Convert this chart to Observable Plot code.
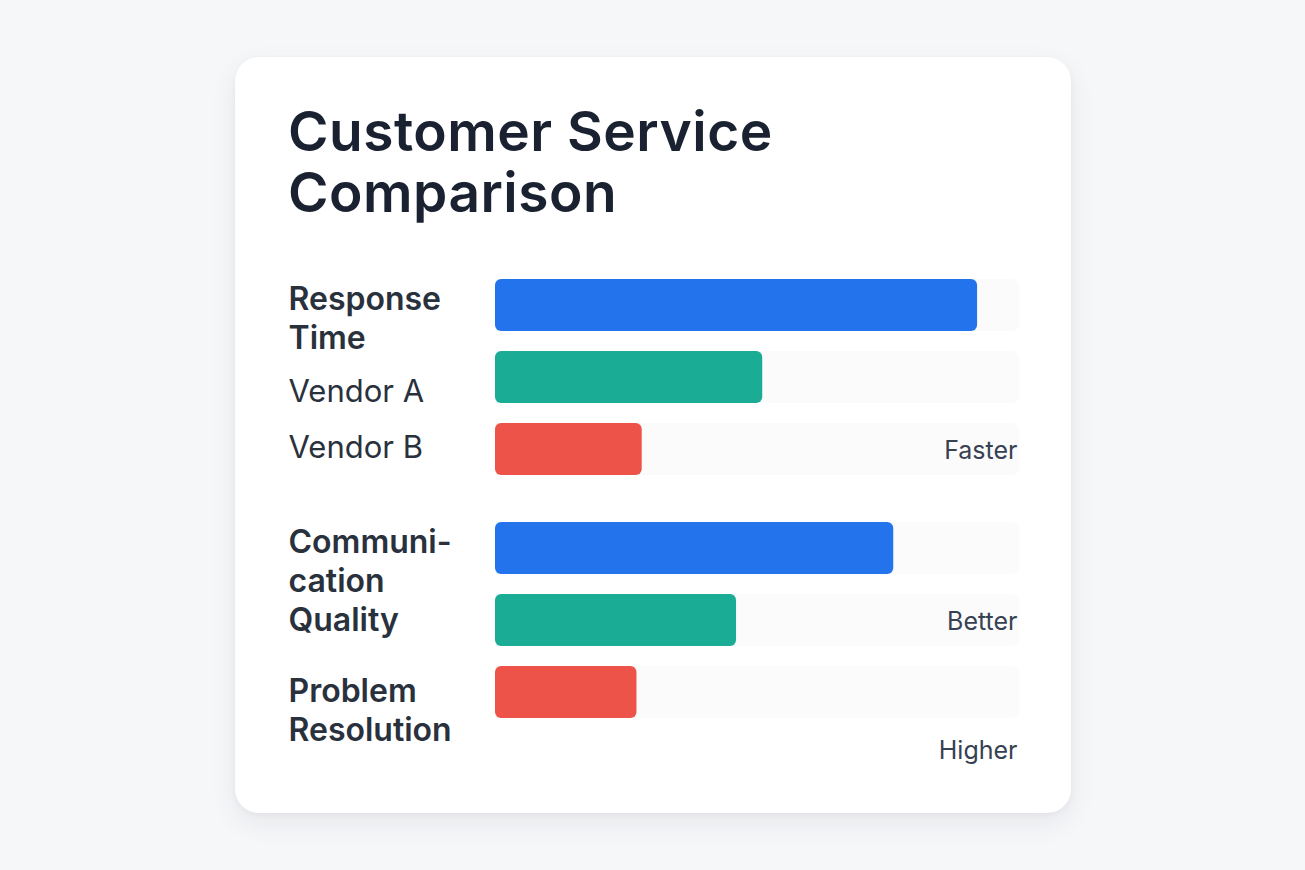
<!DOCTYPE html>
<html>
<head>
<meta charset="utf-8">
<script src="https://cdn.jsdelivr.net/npm/d3@7"></script>
<script src="https://cdn.jsdelivr.net/npm/@observablehq/plot@0.6"></script>
<style>
  html, body { margin: 0; padding: 0; }
  body { width: 1305px; height: 870px; background: #f6f7f9; position: relative; overflow: hidden; font-family: Inter, "Noto Sans", sans-serif; }
  #card { position: absolute; left: 235px; top: 57px; width: 836px; height: 756px; background: #ffffff; border-radius: 24px;
          box-shadow: 0 10px 28px rgba(15, 23, 42, 0.07), 0 2px 6px rgba(15, 23, 42, 0.04); }
  #title { position: absolute; left: 53px; top: 44px; margin: 0; font-family: Inter, sans-serif; font-weight: 600; font-size: 55px; line-height: 61px; color: #1a2130; letter-spacing: 0.5px; }
  #chart { position: absolute; left: 0; top: 180px; }
</style>
</head>
<body>
<div id="card">
  <h1 id="title">Customer Service<br>Comparison</h1>
  <div id="chart"></div>
</div>
<script>
// ---- data ----
const series = ["Overall", "Vendor A", "Vendor B"];
const barGroup = [0, 0, 0, 1, 1, 1];
const barSlot = [0, 1, 2, 0, 1, 2];
const barValue = [92, 51, 28, 76, 46, 27];
const barSeries = ["Overall", "Vendor A", "Vendor B", "Overall", "Vendor A", "Vendor B"];

const headings = ["Response\nTime", "Communi-\ncation\nQuality", "Problem\nResolution"];
const headingGroup = [0, 1, 1];
const headingSlot = [0, 0, 2];

const vendorLabels = ["Vendor A", "Vendor B"];
const vendorGroup = [0, 0];
const vendorSlot = [1, 2];

const hints = ["Faster", "Better", "Higher"];
const hintGroup = [0, 1, 1];
const hintSlot = [2, 1, 2];

const trackMax = 100;

// ---- tables ----
const bars = barValue.map((v, i) => ({group: barGroup[i], slot: barSlot[i], value: v, series: barSeries[i]}));
const headingRows = headings.map((t, i) => ({text: t, group: headingGroup[i], slot: headingSlot[i]}));
const vendorRows = vendorLabels.map((t, i) => ({text: t, group: vendorGroup[i], slot: vendorSlot[i]}));
const hintRows = hints.map((t, i) => ({text: t, group: hintGroup[i], slot: hintSlot[i]}));

const leftText = {text: "text", y: "slot", fy: "group", frameAnchor: "left", textAnchor: "start", dx: -207, fill: "#29313d"};
const headText = {...leftText, lineAnchor: "top", fontSize: 32, fontWeight: 600, lineHeight: 1.22};
const rightText = {text: "text", y: "slot", fy: "group", frameAnchor: "right", textAnchor: "end", lineAnchor: "middle",
  dx: -2, fontSize: 25, fontWeight: 400, fill: "#374151"};

const chart = Plot.plot({
  width: 836,
  height: 553,
  marginLeft: 260,
  marginRight: 52,
  marginTop: 32,
  marginBottom: 60,
  style: {background: "transparent", fontFamily: "Inter, sans-serif", overflow: "visible"},
  x: {domain: [0, trackMax], axis: null},
  y: {type: "band", domain: [0, 1, 2], paddingInner: 0.276, paddingOuter: 0.138, axis: null},
  fy: {domain: [0, 1], paddingInner: 0.105, paddingOuter: 0, axis: null},
  color: {domain: series, range: ["#2374ec", "#1bac95", "#ed5349"]},
  marks: [
    Plot.barX(bars, {x1: 0, x2: trackMax, y: "slot", fy: "group", fill: "#fbfbfc", rx: 6}),
    Plot.barX(bars, {x1: 0, x2: "value", y: "slot", fy: "group", fill: "series", rx: 6}),
    Plot.text(headingRows.filter(d => d.slot === 0), {...headText, dy: -23}),
    Plot.text(headingRows.filter(d => d.slot === 2), {...headText, dy: -18}),
    Plot.text(vendorRows.filter(d => d.slot === 1), {...leftText, lineAnchor: "middle", dy: 15, fontSize: 31, fontWeight: 400}),
    Plot.text(vendorRows.filter(d => d.slot === 2), {...leftText, lineAnchor: "middle", dy: -1, fontSize: 31, fontWeight: 400}),
    Plot.text(hintRows.filter(d => d.text !== "Higher"), {...rightText, dy: 1}),
    Plot.text(hintRows.filter(d => d.text === "Higher"), {...rightText, dy: 58})
  ]
});
document.getElementById("chart").append(chart);
</script>
</body>
</html>
